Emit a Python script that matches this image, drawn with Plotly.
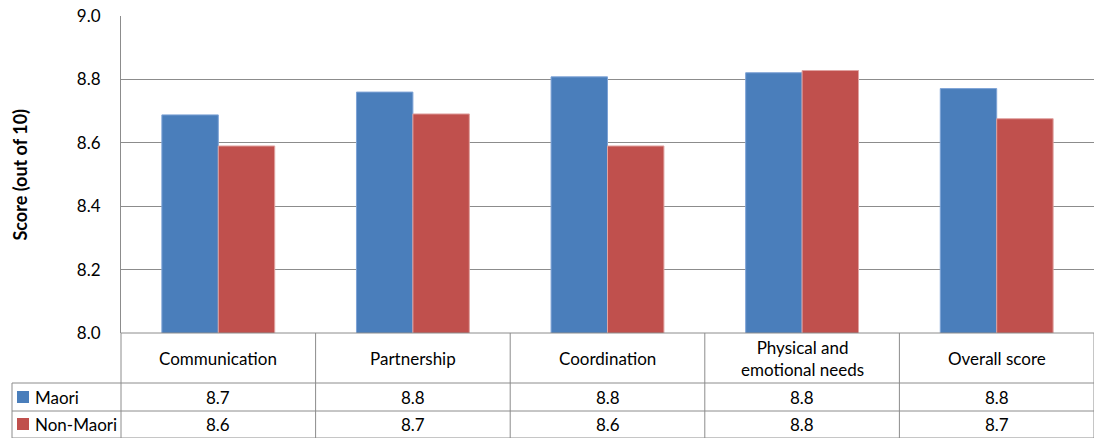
import plotly.graph_objects as go

# Survey scores by dimension
categories = ["Communication", "Partnership", "Coordination",
              "Physical and<br>emotional needs", "Overall score"]
maori = [8.688, 8.760, 8.808, 8.821, 8.771]
non_maori = [8.590, 8.691, 8.590, 8.828, 8.676]
series_names = ["Maori", "Non-Maori"]
y_ticks = [8.0, 8.2, 8.4, 8.6, 8.8, 9.0]

BLUE = "#4A7EBB"
RED = "#C0504D"
GRID = "#8C8C8C"
BORDER = "#8C8C8C"
FONT = "Lato"
TXT = "#000000"
FS = 17

W, H = 1099, 438
L, R, T, B = 121, 5, 16, 105
plot_w = W - L - R
plot_h = H - T - B


def py(px):
    """pixel row -> paper y"""
    return (H - B - px) / plot_h


def pxx(px):
    """pixel column -> paper x"""
    return (px - L) / plot_w


x_idx = list(range(len(categories)))

fig = go.Figure()
fig.add_trace(go.Bar(x=x_idx, y=maori, name=series_names[0],
                     marker=dict(color=BLUE, line=dict(color="#7EA3D6", width=1))))
fig.add_trace(go.Bar(x=x_idx, y=non_maori, name=series_names[1],
                     marker=dict(color=RED, line=dict(color="#E0A3A1", width=1))))

shapes = []
# data table grid
row_cat_bot = 383
row1_bot = 411
row2_bot = 439
shapes.append(dict(type="line", xref="paper", yref="paper", x0=0, x1=1,
                   y0=py(H - B), y1=py(H - B), line=dict(color=BORDER, width=1)))
for yy in (row_cat_bot, row1_bot, row2_bot - 1):
    shapes.append(dict(type="line", xref="paper", yref="paper", x0=pxx(12), x1=1,
                       y0=py(yy), y1=py(yy), line=dict(color=BORDER, width=1)))
shapes.append(dict(type="line", xref="paper", yref="paper", x0=pxx(12), x1=pxx(12),
                   y0=py(row_cat_bot), y1=py(row2_bot), line=dict(color=BORDER, width=1)))
shapes.append(dict(type="line", xref="paper", yref="paper", x0=0, x1=0,
                   y0=py(H - B), y1=py(row2_bot), line=dict(color=BORDER, width=1)))
for i in range(len(categories)):
    shapes.append(dict(type="line", xref="x", yref="paper", x0=i + 0.5, x1=i + 0.5,
                       y0=py(H - B), y1=py(row2_bot), line=dict(color=BORDER, width=1)))

annotations = []
# category labels
for i, c in enumerate(categories):
    annotations.append(dict(x=i, xref="x", y=py(358), yref="paper", text=c,
                            showarrow=False, font=dict(family=FONT, size=FS, color=TXT),
                            xanchor="center", yanchor="middle"))
# value rows
for r, (name, vals, col, yc) in enumerate([(series_names[0], maori, BLUE, 397),
                                           (series_names[1], non_maori, RED, 424)]):
    for i, v in enumerate(vals):
        annotations.append(dict(x=i, xref="x", y=py(yc), yref="paper", text=f"{v:.1f}",
                                showarrow=False, font=dict(family=FONT, size=FS, color=TXT),
                                xanchor="center", yanchor="middle"))
    shapes.append(dict(type="rect", xref="paper", yref="paper", x0=pxx(17), x1=pxx(29),
                       y0=py(yc - 6), y1=py(yc + 6), fillcolor=col, line=dict(width=0)))
    annotations.append(dict(x=pxx(33), xref="paper", y=py(yc), yref="paper", text=name,
                            showarrow=False, font=dict(family=FONT, size=FS, color=TXT),
                            xanchor="left", yanchor="middle"))

# axis title
annotations.append(dict(x=pxx(19), xref="paper", y=0.5, yref="paper",
                        text="<b>Score (out of 10)</b>", textangle=-90, showarrow=False,
                        font=dict(family=FONT, size=18, color=TXT),
                        xanchor="center", yanchor="middle"))

fig.update_layout(
    width=W, height=H,
    margin=dict(l=L, r=R, t=T, b=B),
    paper_bgcolor="white", plot_bgcolor="white",
    barmode="group", bargap=0.42, bargroupgap=0,
    showlegend=False,
    shapes=shapes, annotations=annotations,
    font=dict(family=FONT, size=FS, color=TXT),
)
fig.update_xaxes(range=[-0.5, len(categories) - 0.5], showticklabels=False,
                 showgrid=False, zeroline=False, showline=False, fixedrange=True)
fig.update_yaxes(range=[8.0, 9.0], tickvals=y_ticks,
                 ticktext=[f"{t:.1f}" for t in y_ticks],
                 showgrid=True, gridcolor=GRID, gridwidth=1,
                 zeroline=False, showline=True, linecolor=BORDER, linewidth=1,
                 ticks="", ticklabelstandoff=16,
                 tickfont=dict(family=FONT, size=FS, color=TXT), fixedrange=True)

fig.write_html("out.html", config={"displayModeBar": False})
